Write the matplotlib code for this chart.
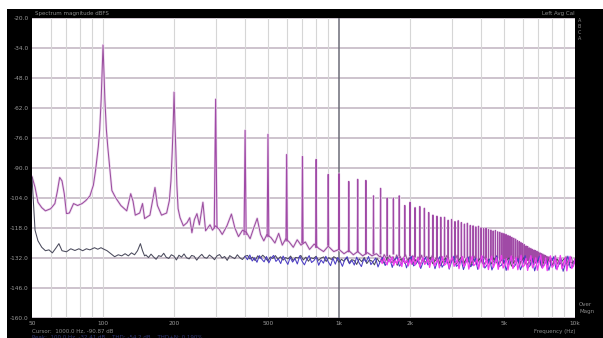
import matplotlib
matplotlib.use("Agg")
import matplotlib.pyplot as plt
import numpy as np
from matplotlib.patches import Rectangle
from matplotlib.ticker import NullLocator

# ---- values (dBFS) ----
F0 = 100.0

# analyser trace with the 100 Hz tone: low band, hand-traced (Hz, dB)
mauve_f = [50, 51.5, 53, 55, 57, 60, 62.5, 64, 65.5, 67, 68.5, 70, 72, 75, 78, 81.5, 84.5,
           88, 91, 93, 95.5, 96.8, 98.2, 99.3, 100, 100.7, 101.8, 103.3, 104.7, 107, 109,
           113, 119, 126, 128.5, 131, 134, 137, 143, 147, 150, 158, 163, 166, 170, 177, 186,
           191, 194, 196.5, 198.5, 200, 201.5, 203.5, 205.5, 208, 212, 219, 227, 233, 238,
           244, 250, 256, 265, 272, 284, 291, 300, 310, 320, 335, 350, 362, 375, 390, 405,
           420, 435, 450, 465, 480, 495, 515, 535, 555, 575, 595, 615, 640, 665, 690, 720,
           750, 785, 820, 860, 900, 950, 1000, 1050, 1100, 1150, 1200, 1260, 1320, 1380,
           1440, 1490]
mauve_db = [-94.0, -99, -106, -108.5, -110, -109, -106.6, -101, -94.4, -96, -102, -111.3,
            -111, -106.6, -107.5, -106.6, -105.2, -103, -98, -91, -80, -72, -58, -42, -32.6,
            -42, -58, -72, -80, -91, -100.5, -103.8, -107.5, -110, -106, -102, -105.5, -112,
            -111, -106.6, -113.6, -112, -104, -99.1, -107.5, -112, -111, -105.2, -96, -82,
            -68, -54.6, -68, -82, -98, -109, -113.2, -117, -115.5, -113.2, -120.2, -114,
            -111.3, -116.5, -106, -119.3, -116.5, -119, -117, -118.5, -121, -117, -111.5,
            -118, -122, -119, -120, -123, -118, -113.5, -121, -124, -121, -122.5, -125,
            -120.5, -126, -123, -124.5, -127, -123.5, -126, -124.5, -128, -125.5, -127.5,
            -129, -126.5, -129, -128, -130, -128.5, -130.5, -129, -131, -129.5, -131, -130,
            -131.5]
# same trace, 1.5 kHz .. 10 kHz
mauve_noise_db = [
    -131.0, -132.7, -130.4, -131.9, -133.3, -130.8, -132.2, -131.4, -133.6, -130.6,
    -132.5, -131.2, -133.9, -131.7, -130.5, -132.9, -131.8, -133.4, -130.9, -132.3,
    -134.0, -131.5, -132.8, -130.7, -133.7, -132.0, -131.3, -134.2, -132.6, -130.8,
    -133.5, -131.9, -132.4, -134.4, -131.1, -132.9, -133.8, -130.9, -132.1, -134.6,
    -131.6, -133.2, -132.5, -130.7, -134.1, -132.8, -131.4, -134.8, -132.0, -133.5,
    -131.2, -134.3, -132.7, -131.0, -135.0, -133.1, -131.8, -134.5, -132.3, -130.9,
    -134.9, -133.4, -131.5, -134.0, -132.6, -131.1, -135.2, -133.0, -131.7, -134.7,
    -132.4, -130.8, -135.1, -133.6, -131.3, -134.4, -132.9, -131.0, -135.4, -133.2,
    -131.6, -134.8, -132.5, -130.9, -135.3, -133.8, -131.2, -134.2, -133.0, -131.5,
    -135.6, -133.3, -131.1, -134.6, -132.8, -131.4, -135.5, -133.7, -131.0, -134.9,
    -133.1, -131.8, -135.7, -133.5, -131.3, -134.5, -132.7, -131.6, -135.2, -133.9]

# harmonics 3..80 of the 100 Hz tone
harm_n = list(range(3, 81))
harm_tip = [
    -57.9, -72.4, -74.3, -83.7, -84.6, -86.0, -93.0, -92.6,
    -96.3, -95.3, -95.8, -103.0, -99.5, -104.0, -104.0, -103.0, -107.5, -106.0,
    -108.5, -108.0, -108.8, -110.8, -112.0, -112.5, -113.0, -113.0, -114.4, -114.0,
    -115.0, -114.6, -115.5, -116.2, -115.8, -116.8, -117.0, -117.5, -117.2, -117.9,
    -118.3, -118.0, -118.8, -119.0, -119.4, -119.2, -119.8, -120.0, -120.4, -120.6,
    -121.0, -121.5, -121.8, -122.4, -122.8, -123.2, -123.9, -124.3, -124.8, -125.3,
    -125.8, -126.4, -126.7, -127.3, -127.6, -128.0, -128.3, -128.6, -128.9, -129.2,
    -129.6, -130.0, -130.2, -130.6, -130.9, -131.3, -131.5, -131.8, -132.0, -132.2]
harm_base = [
    -118, -121, -122, -124, -125, -127, -126, -128,
    -129, -129, -130, -130, -130, -131, -130, -131, -131, -131,
    -131.5, -132.0, -131.2, -132.4, -131.6, -132.1, -132.8, -131.4, -132.2, -132.6,
    -131.8, -132.9, -132.0, -131.5, -132.7, -133.0, -131.9, -132.4, -133.1, -132.2,
    -131.7, -132.8, -133.2, -132.0, -132.5, -133.3, -131.9, -132.7, -133.0, -132.3,
    -133.4, -132.1, -132.8, -133.5, -132.4, -132.0, -133.2, -133.6, -132.5, -132.9,
    -133.7, -132.2, -133.0, -133.8, -132.6, -133.3, -133.9, -132.4, -133.1, -134.0,
    -132.8, -133.5, -134.1, -132.7, -133.2, -134.2, -133.0, -133.6, -134.3, -133.1]

# reference trace (no tone): low band hand-traced, then 152 Hz .. 10 kHz
gray_f = [50, 51.5, 53, 55, 57, 59, 61, 63, 65, 67, 70, 73, 76, 79, 82, 85, 88, 92, 95,
          98, 100, 104, 108, 112, 116, 120, 124, 128, 132, 136, 140, 144, 147, 150]
gray_db = [-94.4, -119, -124, -127, -128.6, -128.2, -129.6, -127.5, -125.3, -128.6,
           -129.1, -127.7, -128.5, -127.7, -128.6, -127.7, -128.2, -127.2, -127.9, -127.2,
           -127.7, -128.6, -130.0, -131.4, -130.5, -131.0, -130.0, -131.0, -129.6, -130.5,
           -128.6, -125.3, -128.6, -131.0]
gray_noise_db = [
    -130.6, -131.8, -130.2, -131.5, -132.6, -130.9, -131.3, -129.8, -131.7, -132.2,
    -130.5, -131.1, -132.9, -130.7, -131.6, -130.1, -131.9, -132.4, -130.8, -131.2,
    -133.0, -131.4, -130.3, -131.8, -132.1, -130.6, -131.5, -132.8, -131.0, -130.4,
    -132.0, -131.3, -133.1, -130.9, -131.7, -132.3, -130.5, -131.9, -132.7, -131.2,
    -130.8, -132.5, -131.6, -133.2, -131.0, -132.1, -130.7, -131.8, -133.4, -131.5,
    -132.2, -130.9, -132.6, -131.4, -133.0, -131.8, -132.4, -131.1, -133.3, -131.7,
    -132.0, -130.8, -132.9, -131.6, -133.5, -131.9, -132.3, -131.2, -133.1, -132.0,
    -131.5, -133.6, -131.8, -132.7, -131.4,
    -132.1, -134.0, -132.6, -133.5, -131.9, -134.3, -132.8, -133.1, -135.0, -132.4,
    -133.7, -131.8, -134.6, -132.9, -133.4, -135.2, -132.2, -133.9, -132.7, -134.8,
    -131.6, -133.3, -134.1, -132.5, -135.4, -133.0, -132.3, -134.5, -133.6, -131.9,
    -134.9, -132.8, -133.7, -135.3, -132.4, -134.0, -133.2, -131.7, -134.7, -133.1,
    -132.6, -135.6, -133.4, -132.0, -134.4, -133.8, -132.3, -135.1, -133.5, -131.8,
    -134.6, -132.9, -133.3, -135.7, -132.5, -134.2, -133.0, -132.1, -135.0, -133.6,
    -132.7, -134.8, -131.9, -133.9, -135.4, -132.6, -134.1, -133.2, -132.0, -135.8,
    -133.7, -132.4, -134.5, -133.1, -131.8, -135.2, -133.9, -132.3, -134.7, -133.4,
    -132.8, -136.0, -133.0, -134.3, -132.2, -135.5, -133.6, -132.5, -134.9, -133.3,
    -132.0, -135.9, -133.8, -134.4, -132.7]

# extra channels in the noise band
blue_noise_db = [  # 400 Hz .. 10 kHz
    -131.2, -132.8, -130.6, -133.4, -131.9, -134.0, -130.9, -132.5, -133.8, -131.3,
    -134.3, -132.0, -130.8, -133.6, -132.4, -134.6, -131.1, -133.0, -135.0, -131.7,
    -133.9, -132.2, -134.8, -131.0, -133.5, -135.2, -132.6, -130.9, -134.1, -133.2,
    -131.5, -135.4, -132.9, -134.4, -131.2, -133.7, -135.6, -132.1, -134.9, -131.8,
    -133.3, -135.9, -132.7, -131.4, -134.7, -133.1, -135.3, -131.6, -134.2, -136.0,
    -132.4, -133.8, -131.3, -135.1, -133.6, -132.0, -136.2, -133.4, -131.7, -135.5,
    -134.0, -132.5, -136.4, -133.0, -131.5, -135.8, -134.5, -132.2, -136.6, -133.3,
    -131.2, -135.7, -134.8, -132.6, -136.9, -133.9, -131.6, -135.2, -134.3, -132.1,
    -137.0, -133.5, -131.4, -136.3, -134.6, -132.3, -137.2, -133.7, -131.1, -135.9,
    -135.0, -132.8, -137.4, -134.1, -131.5, -136.1, -134.9, -132.0, -137.3, -133.6,
    -131.3, -136.7, -135.2, -132.5, -137.6, -134.4, -131.0, -136.0, -135.4, -132.7,
    -137.8, -133.8, -131.6, -136.5, -135.1, -132.2, -137.5, -134.7, -130.9, -136.8,
    -135.6, -132.4, -138.0, -134.2, -131.2, -136.4, -135.3, -132.9, -137.7, -133.9,
    -131.4, -137.1, -135.7, -132.3, -138.2, -134.5, -131.1, -136.6, -135.9, -132.6]
magenta_noise_db = [  # 1.5 kHz .. 10 kHz
    -132.8, -134.6, -131.9, -133.7, -135.2, -132.4, -134.1, -131.6, -135.5, -133.0,
    -134.8, -132.2, -133.9, -136.0, -131.8, -134.4, -133.1, -135.7, -132.6, -134.9,
    -131.5, -135.3, -133.4, -132.0, -136.2, -133.8, -131.7, -135.0, -134.2, -132.3,
    -136.4, -133.2, -131.9, -135.8, -134.0, -132.5, -136.6, -133.6, -131.4, -135.4,
    -134.7, -132.1, -136.8, -133.3, -131.6, -135.9, -134.3, -132.7, -137.0, -133.5,
    -131.3, -136.1, -134.6, -132.0, -137.2, -133.9, -131.2, -135.6, -134.8, -132.4,
    -137.1, -133.4, -130.9, -136.3, -135.0, -132.2, -137.4, -133.7, -131.1, -136.5,
    -134.5, -131.8, -137.3, -134.1, -130.8, -136.7, -135.2, -132.3, -137.6, -133.6,
    -131.0, -136.9, -134.9, -131.7, -137.5, -134.4, -130.7, -136.2, -135.4, -132.1,
    -137.8, -133.8, -130.9, -136.6, -135.1, -131.9, -137.7, -134.2, -130.6, -136.8,
    -135.6, -132.0, -137.9, -134.0, -131.0, -136.4, -135.3, -131.6, -137.5, -134.6,
    -130.8, -137.0, -135.5, -131.8, -138.0, -133.9, -131.2, -136.9, -135.8, -132.4]

y_ticks = [-160, -146, -132, -118, -104, -90, -76, -62, -48, -34, -20]
x_ticks = [50, 100, 200, 500, 1000, 2000, 5000, 10000]
x_tick_labels = ["50", "100", "200", "500", "1k", "2k", "5k", "10k"]
grid_f = [60, 70, 80, 90, 100, 200, 300, 400, 500, 600, 700, 800, 900,
          2000, 3000, 4000, 5000, 6000, 7000, 8000, 9000]
cursor_hz = 1000.0
cursor_db = -90.87

# ---- figure ----
W, H = 603, 338
fig = plt.figure(figsize=(W / 100, H / 100), dpi=100, facecolor="white")
fig.add_artist(Rectangle((7 / W, 0), 1, 1 - 9 / H, transform=fig.transFigure,
                         facecolor="black", edgecolor="none", zorder=-10))

ax = fig.add_axes([32 / W, 20 / H, 543 / W, 300 / H])
ax.set_facecolor("white")
ax.set_xscale("log")
ax.set_xlim(50, 10000)
ax.set_ylim(-160, -20)
for s in ax.spines.values():
    s.set_visible(False)

for y in y_ticks:
    ax.axhline(y, color="#c9bec9", lw=1.3, zorder=1)
for f in grid_f:
    ax.axvline(f, color="#d6d6d6", lw=0.8, zorder=1)
ax.axvline(cursor_hz, color="#6c6c78", lw=1.1, zorder=2)

# tone trace
mx = np.concatenate([mauve_f, np.geomspace(1500, 10000, len(mauve_noise_db))])
my = np.concatenate([mauve_db, mauve_noise_db])
ax.plot(mx, my, color="#eedcf0", lw=1.8, zorder=2)
ax.plot(mx, my, color="#9b4e9f", lw=0.75, zorder=3)

sx, sy = [], []
for n, tip, base in zip(harm_n, harm_tip, harm_base):
    f = n * F0
    sx += [f - 4, f, f + 4, np.nan]
    sy += [base, tip, base, np.nan]
ax.plot(sx, sy, color="#ecd8ef", lw=1.6, zorder=2)
ax.plot(sx, sy, color="#a04aa6", lw=0.8, zorder=3)

gx = np.concatenate([gray_f, np.geomspace(152, 10000, len(gray_noise_db))])
gy = np.concatenate([gray_db, gray_noise_db])
ax.plot(gx, gy, color="#4a4a5c", lw=0.75, zorder=4)

ax.plot(np.geomspace(400, 10000, len(blue_noise_db)), blue_noise_db,
        color="#4b3cc4", lw=0.75, zorder=5)
ax.plot(np.geomspace(1500, 10000, len(magenta_noise_db)), magenta_noise_db,
        color="#f03cf0", lw=0.9, zorder=6)

ax.set_xticks(x_ticks, x_tick_labels)
ax.xaxis.set_minor_locator(NullLocator())
ax.set_yticks(y_ticks, [f"{v:.1f}" for v in y_ticks])
ax.tick_params(length=0, labelsize=4.2, labelcolor="#9a9a9a", pad=2.5)

# ---- screen texts ----
def ftext(x, y, s, **kw):
    kw.setdefault("fontsize", 4)
    kw.setdefault("color", "#8c8c8c")
    kw.setdefault("va", "center")
    fig.text(x / W, 1 - y / H, s, **kw)

ftext(35, 13, "Spectrum magnitude dBFS")
ftext(575, 13, "Left Avg Cal", ha="right")
for i, ch in enumerate(["A", "B", "C", "A"]):
    ftext(578, 21 + i * 6, ch, fontsize=3.5)
ftext(579, 305, "Over")
ftext(579, 312, "Magn")
ftext(575, 332, "Frequency (Hz)", ha="right")
ftext(32, 331, f"Cursor:  {cursor_hz:.1f} Hz, {cursor_db:.2f} dB")
ftext(32, 337, "Peak:  100.0 Hz, -32.41 dB    THD: -54.2 dB    THD+N: 0.190%",
      color="#2e3672")

fig.savefig("out.png", dpi=100, facecolor=fig.get_facecolor())
